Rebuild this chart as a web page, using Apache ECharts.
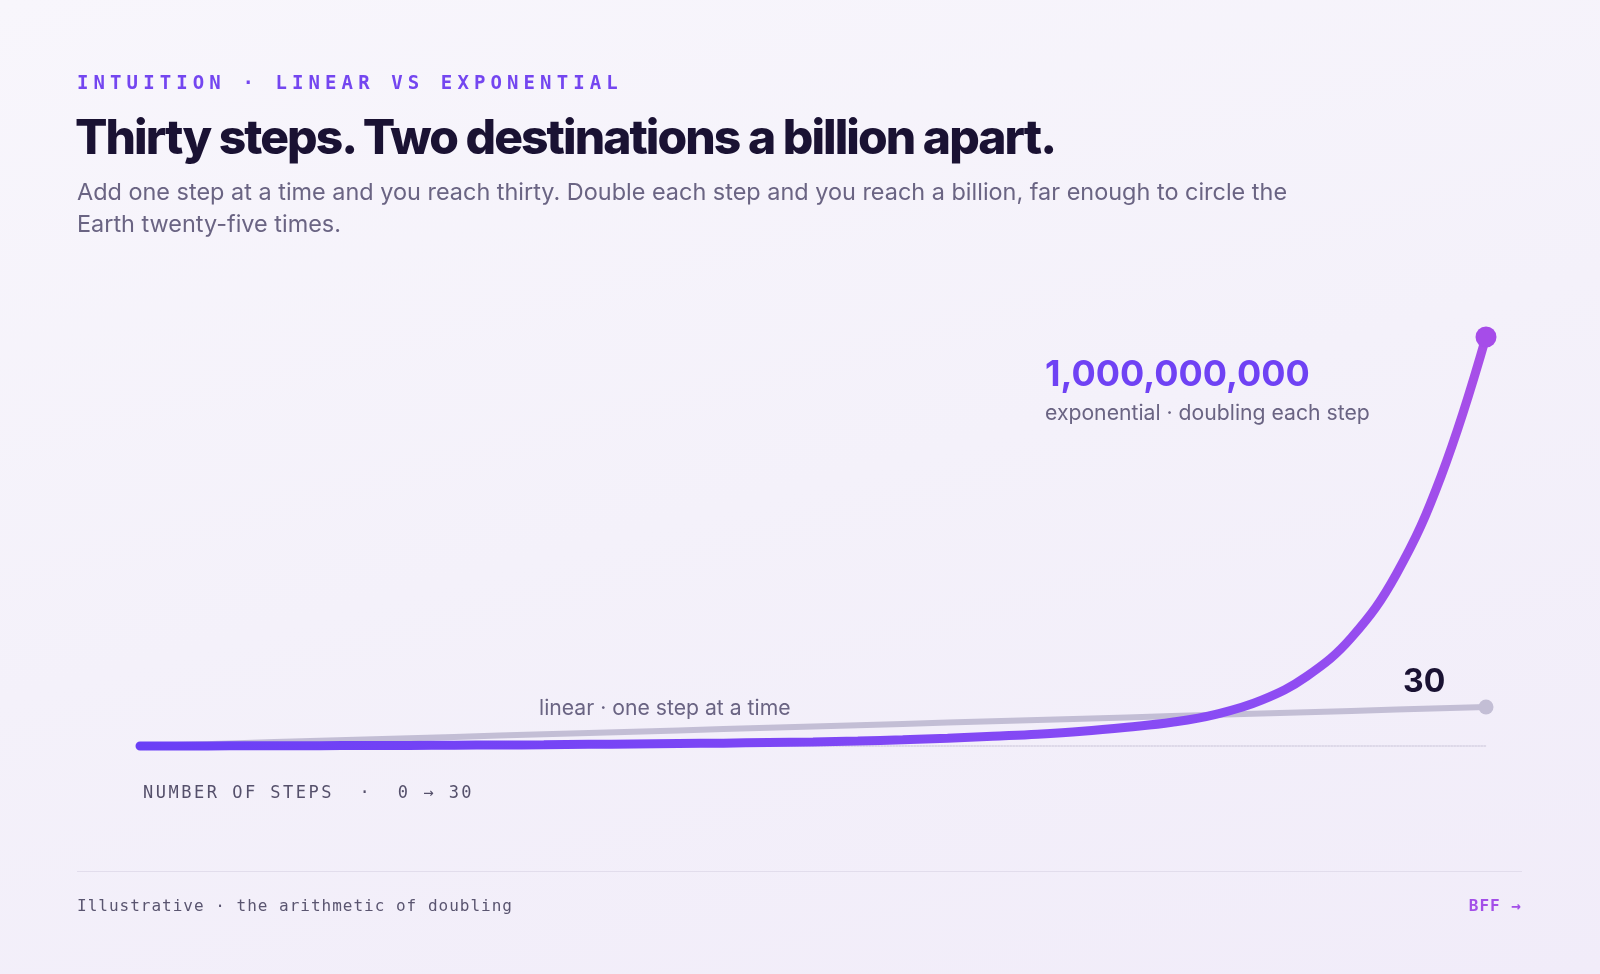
<!DOCTYPE html>
<html>
<head>
<meta charset="utf-8">
<script src="https://cdn.jsdelivr.net/npm/echarts@6/dist/echarts.min.js"></script>
<style>
  html, body { margin: 0; padding: 0; width: 1600px; height: 974px; overflow: hidden; }
  body { background: linear-gradient(165deg, #f8f6fc 0%, #f4f1fa 50%, #f1ecf9 100%); position: relative; font-family: Inter, "Noto Sans", sans-serif; }
  #chart { position: absolute; left: 0; top: 0; width: 1600px; height: 974px; }
  .t { position: absolute; white-space: nowrap; margin: 0; }
  #kicker { left: 77px; top: 71px; font: 700 19px "DejaVu Sans Mono", monospace; letter-spacing: 5.1px; color: #7446f0; line-height: 22px; }
  #title { left: 75px; top: 108px; font: 800 48px Inter, sans-serif; letter-spacing: -1.95px; color: #1a1233; line-height: 58px; }
  #sub { left: 77px; top: 176px; width: 1260px; white-space: normal; font: 400 23.45px Inter, sans-serif; color: #6a6483; line-height: 32px; }
  #foot { left: 77px; top: 896px; font: 400 16px "DejaVu Sans Mono", monospace; letter-spacing: 1px; color: #5a5570; line-height: 20px; }
  #brand { right: 78px; top: 896px; font: 700 16px "DejaVu Sans Mono", monospace; letter-spacing: 1px; color: #a34fe8; line-height: 20px; }
  #rule { position: absolute; left: 77px; top: 871px; width: 1445px; height: 0; border-top: 1px solid #e2ddec; }
  #axisname { left: 143px; top: 782px; font: 500 17px "DejaVu Sans Mono", monospace; letter-spacing: 2.5px; color: #55506b; line-height: 20px; white-space: pre; }
</style>
</head>
<body>
<div id="chart"></div>
<p class="t" id="kicker">INTUITION · LINEAR VS EXPONENTIAL</p>
<p class="t" id="title">Thirty steps. Two destinations a billion apart.</p>
<p class="t" id="sub">Add one step at a time and you reach thirty. Double each step and you reach a billion, far enough to circle the Earth twenty-five times.</p>
<p class="t" id="axisname">NUMBER OF STEPS  ·  0 → 30</p>
<div id="rule"></div>
<p class="t" id="foot">Illustrative · the arithmetic of doubling</p>
<p class="t" id="brand">BFF →</p>
<script>
// Steps 0..30
const steps = [0,1,2,3,4,5,6,7,8,9,10,11,12,13,14,15,16,17,18,19,20,21,22,23,24,25,26,27,28,29,30];
// Linear: one step at a time
const linearValues = [0,1,2,3,4,5,6,7,8,9,10,11,12,13,14,15,16,17,18,19,20,21,22,23,24,25,26,27,28,29,30];
// Exponential curve as drawn (millions)
const exponentialMillions = [0,0.2,0.4,0.6,0.9,1.2,1.5,2,2.4,3,4,5,6,7,8.5,10,12,15,19,24,29,36,46,58,78,112,170,265,420,660,1000];

const expLabel = '1,000,000,000';
const expCaption = 'exponential · doubling each step';
const linLabel = '30';
const linCaption = 'linear · one step at a time';

const chart = echarts.init(document.getElementById('chart'), null, { renderer: 'canvas' });

const last = steps.length - 1;
const option = {
  backgroundColor: 'transparent',
  animation: false,
  grid: { left: 140, right: 114, top: 337, bottom: 228 },
  xAxis: {
    type: 'value', min: 0, max: 30,
    axisLine: { show: true, lineStyle: { color: '#d6d1e2', width: 1.5, type: 'dotted' } },
    axisTick: { show: false }, axisLabel: { show: false }, splitLine: { show: false }
  },
  yAxis: [
    { type: 'value', min: 0, max: 1000, show: false, splitLine: { show: false } },
    { type: 'value', min: 0, max: 314.6, show: false, splitLine: { show: false } }
  ],
  series: [
    {
      name: 'linear', type: 'line', yAxisIndex: 1, clip: false,
      data: steps.map((s, i) => [s, linearValues[i]]),
      symbol: 'circle',
      symbolSize: (v, p) => p.dataIndex === last ? 15 : 0,
      showSymbol: true,
      itemStyle: { color: '#c3bed5' },
      lineStyle: { color: '#c3bed5', width: 6, cap: 'round' },
      z: 2
    },
    {
      name: 'exponential', type: 'line', yAxisIndex: 0, clip: false,
      smooth: 0.4,
      data: steps.map((s, i) => [s, exponentialMillions[i]]),
      symbol: 'circle',
      symbolSize: (v, p) => p.dataIndex === last ? 21 : 0,
      showSymbol: true,
      itemStyle: { color: '#a64ce9' },
      lineStyle: {
        width: 9, cap: 'round',
        color: new echarts.graphic.LinearGradient(0, 1, 1, 0, [
          { offset: 0, color: '#6a3ff6' },
          { offset: 0.75, color: '#8a4cf4' },
          { offset: 1, color: '#a94fe7' }
        ])
      },
      z: 3
    }
  ],
  graphic: [
    { type: 'text', left: 1045, top: 357, style: { text: expLabel, font: '700 36px Inter, sans-serif', fill: '#6f42f4' } },
    { type: 'text', left: 1045, top: 403, style: { text: expCaption, font: '400 21.2px Inter, sans-serif', fill: '#6a6483' } },
    { type: 'text', left: 1403, top: 666, style: { text: linLabel, font: '700 32px Inter, sans-serif', fill: '#1a1233' } },
    { type: 'text', left: 539, top: 698, style: { text: linCaption, font: '400 21.2px Inter, sans-serif', fill: '#6a6483' } }
  ]
};
chart.setOption(option);
</script>
</body>
</html>
